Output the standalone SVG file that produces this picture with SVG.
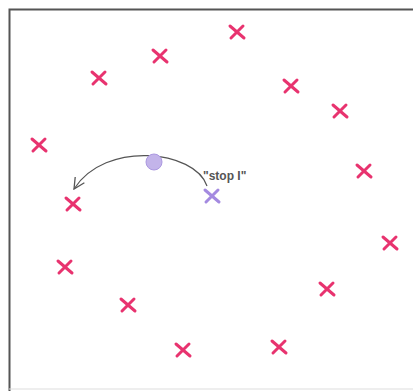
<svg xmlns="http://www.w3.org/2000/svg" width="413" height="391" viewBox="0 0 413 391">
<defs>
<style>
.x{stroke:#e8336f;stroke-width:3;stroke-linecap:round;fill:none}
.xp{stroke:#a48ae0;stroke-width:3;stroke-linecap:round;fill:none}
.lbl{font-family:"Liberation Sans",Arial,sans-serif;font-size:12px;font-weight:bold;fill:#555}
</style>
<marker id="arr" viewBox="0 0 12 12" refX="11" refY="6" markerWidth="13" markerHeight="13" markerUnits="userSpaceOnUse" orient="auto">
<path d="M1,1 L11,6 L1,11" fill="none" stroke="#555" stroke-width="1.2"/>
</marker>
<path id="xm" d="M-7,-6 L7,6 M-6,6 L6,-6"/>
</defs>
<rect x="0" y="0" width="413" height="391" fill="#fff"/>
<path d="M9.5,391 L9.5,9.5 L413,9.5" fill="none" stroke="#555" stroke-width="2"/>
<path d="M9,389 L413,389" fill="none" stroke="#ddd" stroke-width="1"/>
<g id="connectors">
<path d="M207,186 C195,150 105,140 74,189" fill="none" stroke="#555" stroke-width="1.2" marker-end="url(#arr)"/>
</g>
<g id="m1"><use href="#xm" class="x" x="99" y="78"/></g>
<g id="m2"><use href="#xm" class="x" x="160" y="56"/></g>
<g id="m3"><use href="#xm" class="x" x="237" y="32"/></g>
<g id="m4"><use href="#xm" class="x" x="291" y="86"/></g>
<g id="m5"><use href="#xm" class="x" x="340" y="111"/></g>
<g id="m6"><use href="#xm" class="x" x="39" y="145"/></g>
<g id="m7"><use href="#xm" class="x" x="73" y="204"/></g>
<g id="m8"><use href="#xm" class="x" x="364" y="171"/></g>
<g id="m9"><use href="#xm" class="x" x="390" y="243"/></g>
<g id="m10"><use href="#xm" class="x" x="65" y="267"/></g>
<g id="m11"><use href="#xm" class="x" x="128" y="305"/></g>
<g id="m12"><use href="#xm" class="x" x="183" y="350"/></g>
<g id="m13"><use href="#xm" class="x" x="279" y="347"/></g>
<g id="m14"><use href="#xm" class="x" x="327" y="289"/></g>
<g id="stop"><use href="#xm" class="xp" x="212" y="196"/>
<text class="lbl" x="203" y="180">"stop I"</text></g>
<g id="ball"><circle cx="154" cy="162" r="8" fill="#c3b4ea" stroke="#ab98e0" stroke-width="1"/></g>
</svg>
